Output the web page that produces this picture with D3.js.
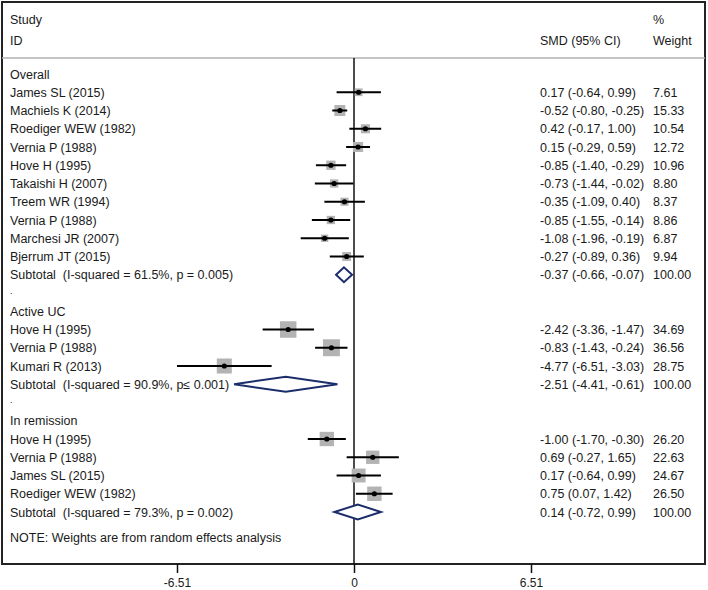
<!DOCTYPE html>
<html>
<head>
<meta charset="utf-8">
<script src="https://cdn.jsdelivr.net/npm/d3@7"></script>
<style>
  html, body { margin: 0; padding: 0; background: #fff; }
  svg text { font-family: "Liberation Sans", Arial, sans-serif; font-size: 12.5px; fill: #1a1a1a; white-space: pre; }
</style>
</head>
<body>
<svg id="chart" width="708" height="590"></svg>
<script>
// ---- data ----
const studies = ["James SL (2015)","Machiels K (2014)","Roediger WEW (1982)","Vernia P (1988)","Hove H (1995)","Takaishi H (2007)","Treem WR (1994)","Vernia P (1988)","Marchesi JR (2007)","Bjerrum JT (2015)",
  "Hove H (1995)","Vernia P (1988)","Kumari R (2013)",
  "Hove H (1995)","Vernia P (1988)","James SL (2015)","Roediger WEW (1982)"];
const studyGroup = [0,0,0,0,0,0,0,0,0,0, 1,1,1, 2,2,2,2];
const smd   = [0.17,-0.52,0.42,0.15,-0.85,-0.73,-0.35,-0.85,-1.08,-0.27, -2.42,-0.83,-4.77, -1.00,0.69,0.17,0.75];
const ciLow = [-0.64,-0.80,-0.17,-0.29,-1.40,-1.44,-1.09,-1.55,-1.96,-0.89, -3.36,-1.43,-6.51, -1.70,-0.27,-0.64,0.07];
const ciHigh= [0.99,-0.25,1.00,0.59,-0.29,-0.02,0.40,-0.14,-0.19,0.36, -1.47,-0.24,-3.03, -0.30,1.65,0.99,1.42];
const weight= [7.61,15.33,10.54,12.72,10.96,8.80,8.37,8.86,6.87,9.94, 34.69,36.56,28.75, 26.20,22.63,24.67,26.50];

const groupNames = ["Overall","Active UC","In remission"];
const subLabels  = ["Subtotal  (I-squared = 61.5%, p = 0.005)","Subtotal  (I-squared = 90.9%, p\u2264 0.001)","Subtotal  (I-squared = 79.3%, p = 0.002)"];
const subSmd  = [-0.37,-2.51,0.14];
const subLow  = [-0.66,-4.41,-0.72];
const subHigh = [-0.07,-0.61,0.99];
const subWeight = [100.00,100.00,100.00];

const tickValues = [-6.51, 0, 6.51];
const tickLabels = ["-6.51","0","6.51"];
const noteText = "NOTE: Weights are from random effects analysis";

// ---- layout ----
const svg = d3.select("#chart");
const x = d3.scaleLinear().domain([-6.51, 6.51]).range([177, 531]);
const y = d3.scaleLinear().domain([0, 1]).range([74, 92.25]);
const fmt = v => v.toFixed(2);
const ciText = (e,l,h) => `${fmt(e)} (${fmt(l)}, ${fmt(h)})`;

// build rows
const rows = [];
let r = 0;
groupNames.forEach((g, gi) => {
  if (gi > 0) { rows.push({type:"dot", row:r++}); }
  rows.push({type:"head", label:g, row:r++});
  studies.forEach((s, i) => {
    if (studyGroup[i] === gi) rows.push({type:"study", label:s, e:smd[i], l:ciLow[i], h:ciHigh[i], w:weight[i], row:r++});
  });
  rows.push({type:"sub", label:subLabels[gi], e:subSmd[gi], l:subLow[gi], h:subHigh[gi], w:subWeight[gi], row:r++});
});

const frameTop = 2, frameBottom = 564, frameLeft = 2, frameRight = 705, headerLine = 58;

// frame
svg.append("rect").attr("x", frameLeft).attr("y", frameTop)
  .attr("width", frameRight - frameLeft).attr("height", frameBottom - frameTop)
  .attr("fill", "none").attr("stroke", "#222").attr("stroke-width", 2);
svg.append("line").attr("x1", frameLeft).attr("x2", frameRight).attr("y1", headerLine).attr("y2", headerLine)
  .attr("stroke", "#b0b0b0").attr("stroke-width", 1.5);

// header text
const hdr = svg.append("g");
hdr.append("text").attr("x", 10).attr("y", 24).text("Study");
hdr.append("text").attr("x", 10).attr("y", 45).text("ID");
hdr.append("text").attr("x", 540).attr("y", 45).text("SMD (95% CI)");
hdr.append("text").attr("x", 653).attr("y", 24).text("%");
hdr.append("text").attr("x", 653).attr("y", 45).text("Weight");

// zero line
svg.append("line").attr("x1", x(0)).attr("x2", x(0)).attr("y1", headerLine).attr("y2", frameBottom)
  .attr("stroke", "#111").attr("stroke-width", 1.5);

// rows
const g = svg.append("g");
rows.forEach(d => {
  const yy = y(d.row);
  const ty = yy + 4.5;
  if (d.type === "dot") {
    g.append("text").attr("x", 10).attr("y", ty - 4).style("font-size", "9px").text(".");
    return;
  }
  g.append("text").attr("x", 10).attr("y", ty).text(d.label);
  if (d.type === "study") {
    const side = 2.8 * Math.sqrt(d.w);
    g.append("rect").attr("x", x(d.e) - side/2).attr("y", yy - side/2)
      .attr("width", side).attr("height", side).attr("fill", "#b3b3b3");
    g.append("line").attr("x1", x(d.l)).attr("x2", x(d.h)).attr("y1", yy).attr("y2", yy)
      .attr("stroke", "#000").attr("stroke-width", 2);
    g.append("circle").attr("cx", x(d.e)).attr("cy", yy).attr("r", 2.6).attr("fill", "#000");
  }
  if (d.type === "sub") {
    const hh = 7.5;
    const pts = [[x(d.l), yy],[x(d.e), yy - hh],[x(d.h), yy],[x(d.e), yy + hh]];
    g.append("path").attr("d", d3.line()(pts) + "Z")
      .attr("fill", "#fff").attr("stroke", "#1c2d6b").attr("stroke-width", 2);
  }
  if (d.type === "study" || d.type === "sub") {
    g.append("text").attr("x", 540).attr("y", ty).text(ciText(d.e, d.l, d.h));
    g.append("text").attr("x", 653).attr("y", ty).text(fmt(d.w));
  }
});

// note
svg.append("text").attr("x", 10).attr("y", y(24) + 30).text(noteText);

// axis
const axis = d3.axisBottom(x).tickValues(tickValues).tickSize(9).tickPadding(5)
  .tickFormat((v, i) => tickLabels[i]);
const ax = svg.append("g").attr("transform", `translate(0,${frameBottom})`).call(axis);
ax.select(".domain").remove();
ax.selectAll(".tick line").attr("stroke", "#111").attr("stroke-width", 1.5);
ax.selectAll(".tick text").style("font-family", "'Liberation Sans', Arial, sans-serif").style("font-size", "12px").attr("fill", "#1a1a1a");
</script>
</body>
</html>
